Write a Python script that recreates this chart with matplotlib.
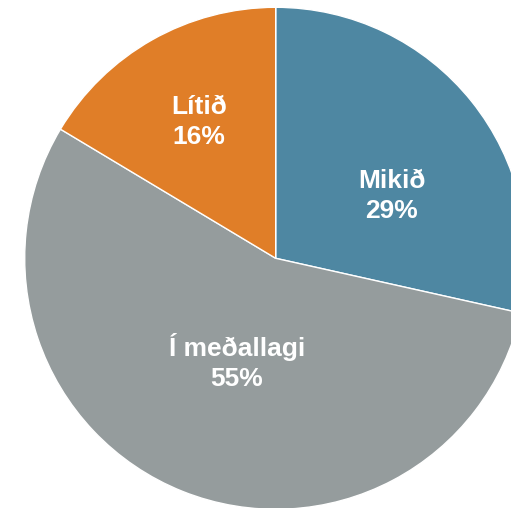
import matplotlib
matplotlib.use("Agg")
import matplotlib.pyplot as plt

categories = ["Mikið", "Í meðallagi", "Lítið"]
values = [28.5, 55.1, 16.4]
pct_labels = ["29%", "55%", "16%"]
colors = ["#4e87a2", "#959c9d", "#e07e28"]
# label anchor positions (layout, in units of pie radius)
label_pos = [(0.462, 0.248), (-0.155, -0.412), (-0.306, 0.543)]

fig = plt.figure(figsize=(5.11, 5.08), dpi=100)
ax = fig.add_axes([0, 0, 1, 1])
ax.pie(values, colors=colors, startangle=90, counterclock=False,
       radius=1.0, center=(0, 0),
       wedgeprops=dict(edgecolor="white", linewidth=1.0))

for cat, lab, (x, y) in zip(categories, pct_labels, label_pos):
    ax.text(x, y, f"{cat}\n{lab}", ha="center", va="center", color="white",
            fontsize=19, fontweight="bold", family="Liberation Sans",
            linespacing=1.32)

cx, cy, r = 275.7, 258.3, 251.0
ax.set_xlim(-cx / r, (511 - cx) / r)
ax.set_ylim(-(508 - cy) / r, cy / r)
ax.set_aspect("auto")
ax.axis("off")
fig.savefig("out.png", dpi=100)
